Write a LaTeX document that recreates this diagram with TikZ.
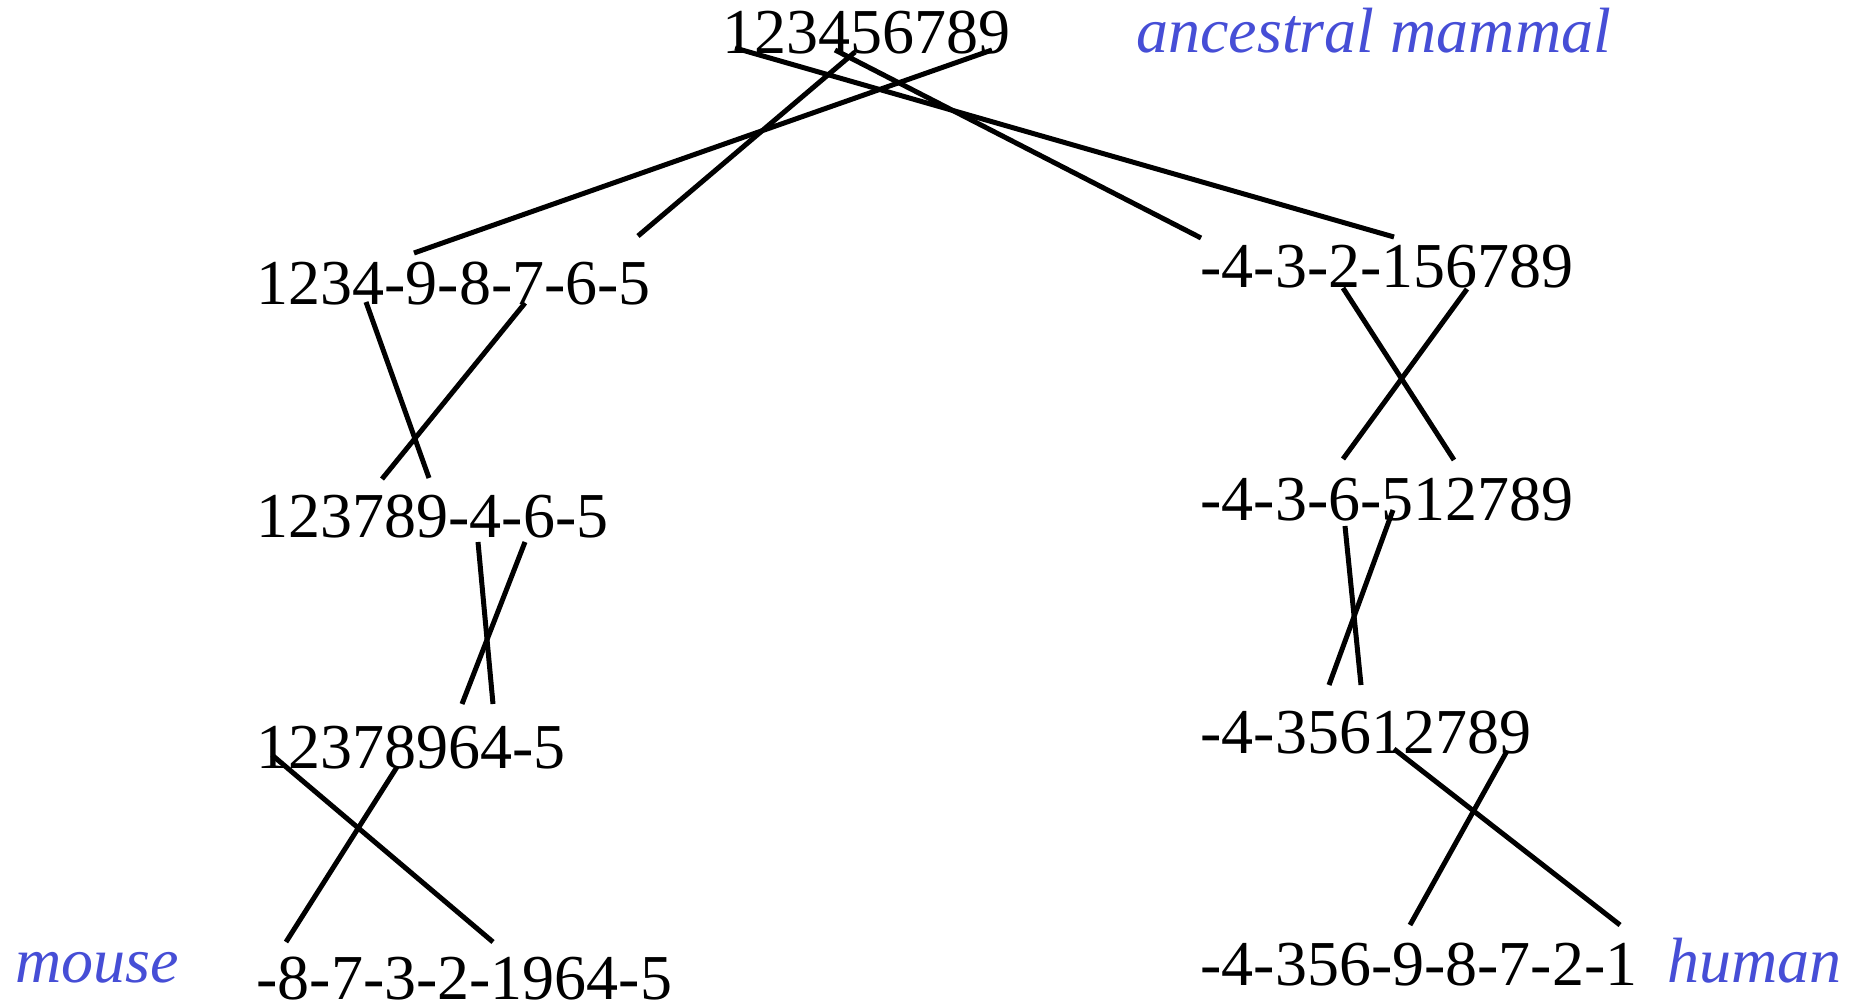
\documentclass[tikz,border=0pt]{standalone}
\usepackage{fontspec}
\setmainfont{Liberation Serif}
\definecolor{lbl}{RGB}{70,78,214}
\begin{document}
\begin{tikzpicture}[x=0.5pt,y=-0.5pt,
  seq/.style={anchor=base west,inner sep=0pt,font=\fontsize{32}{36}\selectfont},
  lab/.style={anchor=base west,inner sep=0pt,text=lbl,font=\fontsize{32}{36}\selectfont\itshape},
  link/.style={line width=2.5pt,black}]
\useasboundingbox (0,0) rectangle (1862,1005);
% sequences
\node[seq] (r) at (722,54) {123456789};
\node[lab] (anc) at (1136,53) {ancestral mammal};
\node[seq] (m1) at (256,305) {1234-9-8-7-6-5};
\node[seq] (m2) at (256,537) {123789-4-6-5};
\node[seq] (m3) at (256,768) {12378964-5};
\node[seq] (m4) at (256,999) {-8-7-3-2-1964-5};
\node[lab] (mouse) at (15,982) {mouse};
\node[seq] (h1) at (1200,288) {-4-3-2-156789};
\node[seq] (h2) at (1200,520) {-4-3-6-512789};
\node[seq] (h3) at (1200,753) {-4-35612789};
\node[seq] (h4) at (1200,985) {-4-356-9-8-7-2-1};
\node[lab] (human) at (1667,982) {human};
% connector end points
\coordinate (t1a) at (735,48);  \coordinate (t1b) at (1394,237);
\coordinate (t2a) at (835,50);  \coordinate (t2b) at (1201,238);
\coordinate (t3a) at (855,52);  \coordinate (t3b) at (638,236);
\coordinate (t4a) at (992,50);  \coordinate (t4b) at (414,253);
\coordinate (la) at (366,302);  \coordinate (lb) at (429,478);
\coordinate (lc) at (525,303);  \coordinate (ld) at (382,479);
\coordinate (le) at (478,542);  \coordinate (lf) at (493,704);
\coordinate (lg) at (525,542);  \coordinate (lh) at (462,704);
\coordinate (li) at (272,755);  \coordinate (lj) at (493,942);
\coordinate (lk) at (397,767);  \coordinate (ll) at (286,942);
\coordinate (ra) at (1343,288); \coordinate (rb) at (1454,460);
\coordinate (rc) at (1467,289); \coordinate (rd) at (1343,459);
\coordinate (re) at (1345,526); \coordinate (rf) at (1361,685);
\coordinate (rg) at (1393,510); \coordinate (rh) at (1329,685);
\coordinate (ri) at (1394,749); \coordinate (rj) at (1620,925);
\coordinate (rk) at (1507,751); \coordinate (rl) at (1410,925);
% connectors
\draw[link] (t1a) -- (t1b);
\draw[link] (t2a) -- (t2b);
\draw[link] (t3a) -- (t3b);
\draw[link] (t4a) -- (t4b);
\draw[link] (la) -- (lb);
\draw[link] (lc) -- (ld);
\draw[link] (le) -- (lf);
\draw[link] (lg) -- (lh);
\draw[link] (li) -- (lj);
\draw[link] (lk) -- (ll);
\draw[link] (ra) -- (rb);
\draw[link] (rc) -- (rd);
\draw[link] (re) -- (rf);
\draw[link] (rg) -- (rh);
\draw[link] (ri) -- (rj);
\draw[link] (rk) -- (rl);
\end{tikzpicture}
\end{document}
